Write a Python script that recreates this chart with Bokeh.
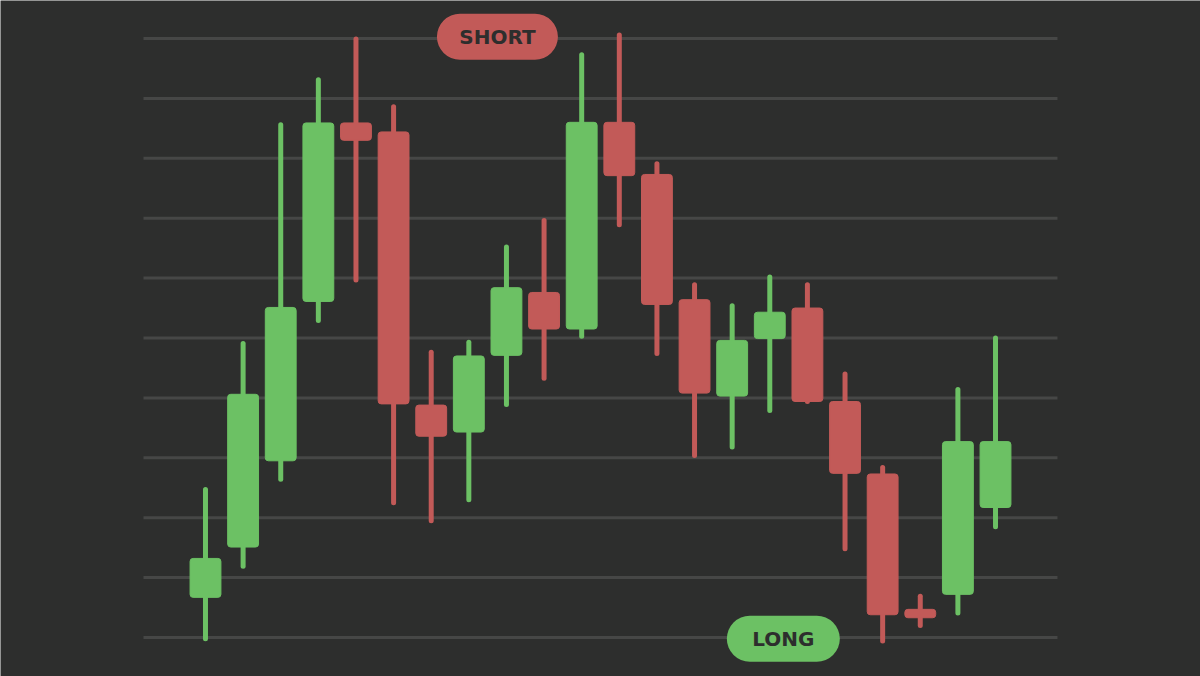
from bokeh.plotting import figure
from bokeh.models import ColumnDataSource, Range1d
from bokeh.core.properties import value
from bokeh.embed import file_html
from bokeh.resources import INLINE

# ---- data ----
slots = list(range(22))
opens  = [0.67, 1.51, 2.95, 5.61, 8.59, 8.44, 3.88, 3.43, 4.71, 5.76, 5.15,
          8.60, 7.73, 5.64, 4.03, 4.99, 5.50, 3.94, 2.73, 0.47, 0.72, 2.17]
closes = [1.32, 4.06, 5.51, 8.59, 8.30, 3.90, 3.36, 4.70, 5.84, 5.15, 8.60,
          7.71, 5.56, 4.08, 4.96, 5.43, 3.94, 2.74, 0.38, 0.33, 3.27, 3.27]
highs  = [2.47, 4.91, 8.56, 9.31, 9.99, 8.86, 4.76, 4.93, 6.52, 6.96, 9.73,
          10.06, 7.91, 5.89, 5.54, 6.02, 5.89, 4.40, 2.84, 0.69, 4.14, 5.00]
lows   = [-0.02, 1.19, 2.64, 5.29, 5.97, 2.25, 1.95, 2.30, 3.89, 4.33, 5.03,
          6.89, 4.74, 3.04, 3.18, 3.79, 3.94, 1.48, -0.06, 0.20, 0.41, 1.85]
grid_levels = list(range(11))
label_text = ["SHORT", "LONG"]
label_x = [7.76, 15.36]
label_y = [10.03, -0.02]
label_kind = ["down", "up"]

# ---- style ----
BG = "#2d2e2d"
GRID = "#464746"
UP = "#6cc164"
DOWN = "#c25a58"
GRID_X0, GRID_X1 = -1.648, 22.647

colors = [UP if c >= o else DOWN for o, c in zip(opens, closes)]
src = ColumnDataSource(dict(
    x=slots, top=[max(o, c) for o, c in zip(opens, closes)],
    bottom=[min(o, c) for o, c in zip(opens, closes)],
    high=highs, low=lows, color=colors))

grid_src = ColumnDataSource(dict(
    y=grid_levels, x0=[GRID_X0] * len(grid_levels),
    x1=[GRID_X1] * len(grid_levels)))

lab = ColumnDataSource(dict(
    x=label_x, y=label_y, text=label_text,
    color=[DOWN if k == "down" else UP for k in label_kind],
    w=[121, 113]))

W, H = 1200, 676
p = figure(width=W, height=H, output_backend="svg", toolbar_location=None,
           x_range=Range1d(-5.449, 26.449), y_range=Range1d(-0.651, 10.634),
           min_border=0)
p.background_fill_color = BG
p.border_fill_color = BG
p.outline_line_color = None
p.axis.visible = False
p.grid.visible = False

p.segment(x0="x0", y0="y", x1="x1", y1="y", source=grid_src,
          line_color=GRID, line_width=3)

p.segment(x0="x", y0="low", x1="x", y1="high", source=src,
          line_color="color", line_width=5, line_cap="round")
p.vbar(x="x", width=0.82, top="top", bottom="bottom", source=src,
       fill_color="color", line_color="color", line_width=1, border_radius=3)

p.rect(x="x", y="y", width="w", height=46, width_units="screen",
       height_units="screen", source=lab, fill_color="color",
       line_color=None, border_radius=23)
p.text(x="x", y="y", text="text", source=lab, text_align="center",
       text_baseline="middle", text_font=value("DejaVu Sans"),
       text_font_style="bold", text_font_size="20px", text_color="#2d2e2d")

open("out.html", "w").write(file_html(p, INLINE))
